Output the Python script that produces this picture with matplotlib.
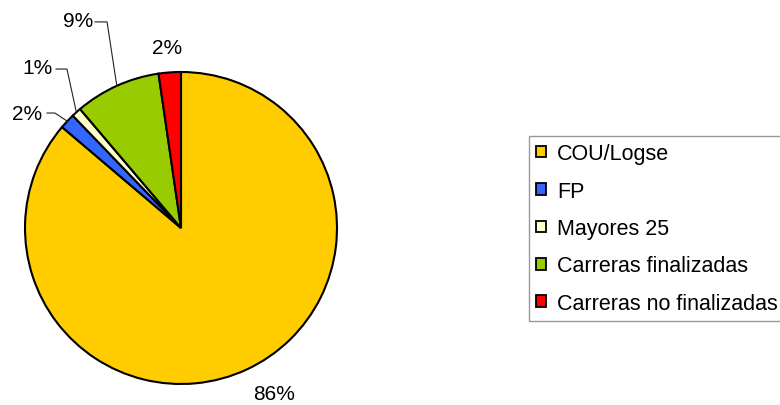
import matplotlib.pyplot as plt
import numpy as np

plt.rcParams['font.family'] = ['Liberation Sans', 'DejaVu Sans']

# data
categories = ["COU/Logse", "FP", "Mayores 25", "Carreras finalizadas", "Carreras no finalizadas"]
values = [86.2, 1.6, 1.0, 8.9, 2.3]
colors = ["#FFCC00", "#3366FF", "#FFFFCC", "#99CC00", "#FF0000"]

# label text positions (data units of pie axes) and leader elbows (None = no line)
label_pos = [(0.596, -1.058), (-0.987, 0.737), (-0.923, 1.032), (-0.660, 1.333), (-0.09, 1.160)]
leader_elbow = [None, ((-0.859, 0.737), (-0.808, 0.737)), ((-0.801, 1.019), (-0.731, 1.019)),
                ((-0.551, 1.321), (-0.474, 1.321)), None]

fig = plt.figure(figsize=(7.8, 4.06), dpi=100)
ax = fig.add_axes([25 / 780, 21 / 406, 312 / 780, 312 / 406])

wedges, _ = ax.pie(values, colors=colors, startangle=90, counterclock=False, radius=1,
                   wedgeprops=dict(edgecolor="black", linewidth=1.5))
ax.set_xlim(-1, 1)
ax.set_ylim(-1, 1)
ax.set_aspect('auto')
ax.axis('off')

total = sum(values)
for w, v, pos, elbow in zip(wedges, values, label_pos, leader_elbow):
    ax.text(pos[0], pos[1], f"{v / total * 100:.0f}%", ha='center', va='center',
            fontsize=15, clip_on=False)
    if elbow is not None:
        mid = np.deg2rad((w.theta1 + w.theta2) / 2)
        px, py = np.cos(mid), np.sin(mid)
        ax.plot([elbow[0][0], elbow[1][0], px], [elbow[0][1], elbow[1][1], py],
                color="#222222", linewidth=0.8, clip_on=False)

handles = [plt.Rectangle((0, 0), 1, 1, facecolor=c, edgecolor="black", linewidth=1.3) for c in colors]
leg = fig.legend(handles, categories, loc='upper left', bbox_to_anchor=(529 / 780, 1 - 137 / 406),
                 borderaxespad=0, fontsize=15.5, frameon=True, fancybox=False,
                 handlelength=0.45, handleheight=0.45, handletextpad=0.5,
                 labelspacing=0.76, borderpad=0.34)
leg.get_frame().set_edgecolor("#808080")
leg.get_frame().set_linewidth(1.0)

fig.savefig("out.png", dpi=100)
